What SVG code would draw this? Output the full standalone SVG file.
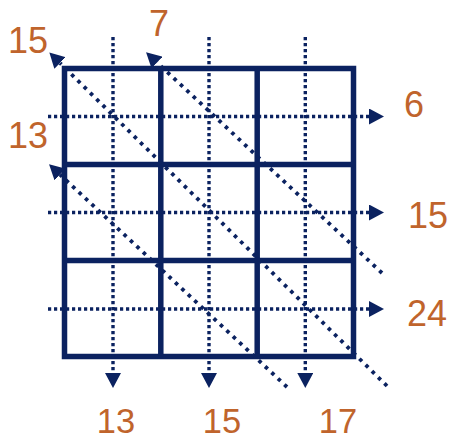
<svg xmlns="http://www.w3.org/2000/svg" width="450" height="441" viewBox="0 0 450 441">
<style>
.grid{fill:none;stroke:#0b2260;stroke-width:5.5}
.dot{fill:none;stroke:#0b2260;stroke-width:3.4;stroke-dasharray:3.2 2.8}
.diag{fill:none;stroke:#0b2260;stroke-width:3.8;stroke-dasharray:3.6 5.2}
.lbl{font-family:"Liberation Sans",Arial,sans-serif;font-size:36px;fill:#c0642c;text-anchor:middle}
.bot{font-size:34.5px}
</style>
<defs>
<marker id="arr" markerUnits="userSpaceOnUse" markerWidth="16" markerHeight="16" refX="0" refY="8" orient="auto" viewBox="0 0 16 16">
<path d="M0,0 L15,8 L0,16 z" fill="#0b2260"/>
</marker>
</defs>
<g id="grid">
<rect class="grid" x="64.5" y="68.5" width="289" height="288"/>
<line class="grid" x1="160.8" y1="68.5" x2="160.8" y2="356.5"/>
<line class="grid" x1="257.2" y1="68.5" x2="257.2" y2="356.5"/>
<line class="grid" x1="64.5" y1="164.5" x2="353.5" y2="164.5"/>
<line class="grid" x1="64.5" y1="260.5" x2="353.5" y2="260.5"/>
</g>
<g id="connectors">
<line class="dot" x1="113" y1="37" x2="113" y2="373" marker-end="url(#arr)"/>
<line class="dot" x1="209" y1="37" x2="209" y2="373" marker-end="url(#arr)"/>
<line class="dot" x1="305.3" y1="37" x2="305.3" y2="373" marker-end="url(#arr)"/>
<line class="dot" x1="48" y1="116.5" x2="369" y2="116.5" marker-end="url(#arr)"/>
<line class="dot" x1="48" y1="212.5" x2="369" y2="212.5" marker-end="url(#arr)"/>
<line class="dot" x1="48" y1="309" x2="369" y2="309" marker-end="url(#arr)"/>
<line class="diag" x1="387" y1="386" x2="60" y2="63" marker-end="url(#arr)"/>
<line class="diag" x1="382" y1="273" x2="157" y2="62.5" marker-end="url(#arr)"/>
<line class="diag" x1="287" y1="387" x2="60" y2="174.5" marker-end="url(#arr)"/>
</g>
<g id="labels">
<text class="lbl" x="28" y="53">15</text>
<text class="lbl" x="159" y="36">7</text>
<text class="lbl" x="28" y="148">13</text>
<text class="lbl" x="414" y="117">6</text>
<text class="lbl" x="428" y="228">15</text>
<text class="lbl" x="427" y="326">24</text>
<text class="lbl bot" x="116" y="433">13</text>
<text class="lbl bot" x="222" y="433">15</text>
<text class="lbl bot" x="338" y="433">17</text>
</g>
</svg>
